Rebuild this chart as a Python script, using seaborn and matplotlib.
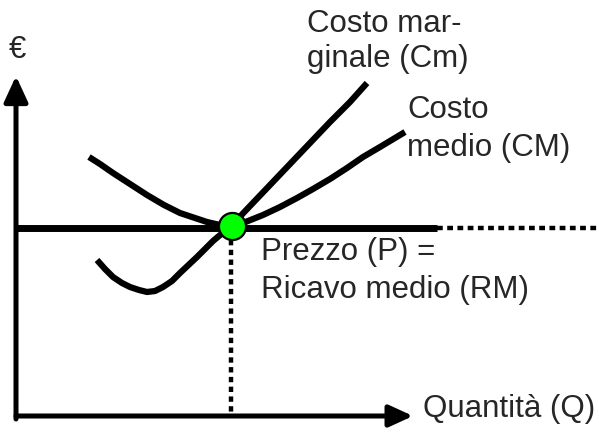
import matplotlib
matplotlib.use("Agg")
import matplotlib.pyplot as plt
import seaborn as sns

# curve points (pixel space, y grows downward)
cm_medio_x = [89, 100, 113, 130, 147, 164, 180, 195, 207, 220, 232, 243, 263, 280, 297, 313, 330, 347, 363, 380, 405]
cm_medio_y = [157, 164, 173, 184, 195, 205, 213, 218, 222, 225, 227, 223, 215, 207, 198, 189, 179, 168, 157, 147, 132]

cm_marg_x = [97, 105, 113, 122, 130, 139, 147, 155, 163, 172, 180, 197, 213, 232, 250, 270, 290, 310, 330, 350, 367]
cm_marg_y = [260, 269, 277, 283, 287, 290, 292, 291, 287, 281, 273, 257, 241, 225, 206, 185, 164, 143, 122, 102, 83]

prezzo_y = 228
q_eq = 232
p_eq = 226

labels = {
    "euro": "€",
    "cm1": "Costo mar-",
    "cm2": "ginale (Cm)",
    "cmed1": "Costo",
    "cmed2": "medio (CM)",
    "p1": "Prezzo (P) =",
    "p2": "Ricavo medio (RM)",
    "q": "Quantità (Q)",
}

sns.set_theme(style="white")
plt.rcParams["font.family"] = ["Liberation Sans", "DejaVu Sans"]

fig = plt.figure(figsize=(5.99, 4.32), dpi=100)
ax = fig.add_axes([0, 0, 1, 1])
ax.set_xlim(0, 599)
ax.set_ylim(432, 0)
ax.axis("off")

lw = 4.5
sns.lineplot(x=cm_medio_x, y=cm_medio_y, sort=False, estimator=None, ax=ax,
             color="black", lw=lw, solid_capstyle="butt", solid_joinstyle="round")
sns.lineplot(x=cm_marg_x, y=cm_marg_y, sort=False, estimator=None, ax=ax,
             color="black", lw=lw, solid_capstyle="butt", solid_joinstyle="round")

# prezzo = ricavo medio
ax.plot([16, 437], [prezzo_y, prezzo_y], color="black", lw=5, solid_capstyle="butt")
ax.plot([437, 599], [prezzo_y, prezzo_y], color="black", lw=3.2, dashes=(1.3, 1.0),
        dash_capstyle="butt")
ax.plot([q_eq - 1, q_eq - 1], [240, 414], color="black", lw=3.2, dashes=(1.2, 1.0),
        dash_capstyle="butt")

# assi
ax.annotate("", xy=(16, 76), xytext=(16, 419),
            arrowprops=dict(arrowstyle="-|>,head_length=1.3,head_width=0.6",
                            color="black", lw=3.6, shrinkA=0, shrinkB=0))
ax.annotate("", xy=(413, 416), xytext=(16, 416),
            arrowprops=dict(arrowstyle="-|>,head_length=1.2,head_width=0.55",
                            color="black", lw=3.6, shrinkA=0, shrinkB=0))

ax.plot([q_eq], [p_eq], "o", ms=19.5, color="#00ff00", mec="black", mew=1.6, zorder=5)

fs = 22.5
ax.text(17, 58, labels["euro"], fontsize=fs, ha="center", va="baseline")
ax.text(307, 32, labels["cm1"], fontsize=fs, va="baseline")
ax.text(307, 67, labels["cm2"], fontsize=fs, va="baseline")
ax.text(407, 118, labels["cmed1"], fontsize=fs, va="baseline")
ax.text(407, 156, labels["cmed2"], fontsize=fs, va="baseline")
ax.text(261, 260, labels["p1"], fontsize=fs, va="baseline")
ax.text(261, 298, labels["p2"], fontsize=fs, va="baseline")
ax.text(423, 417, labels["q"], fontsize=fs, va="baseline")

fig.savefig("out.png", dpi=100)
